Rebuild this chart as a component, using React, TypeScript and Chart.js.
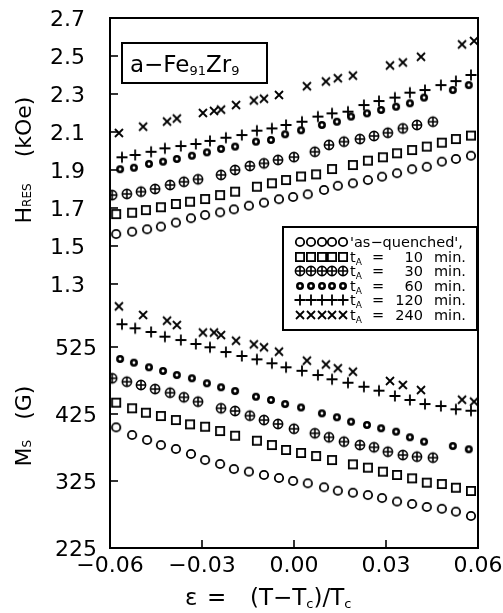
import React, { useEffect, useRef } from 'react';
import { Chart, registerables } from 'chart.js';

Chart.register(...registerables);

// ---------- tick values ----------
const xTicks = [-0.06, -0.03, 0, 0.03, 0.06];
const hTicks = [1.3, 1.5, 1.7, 1.9, 2.1, 2.3, 2.5, 2.7];
const mTicks = [225, 325, 425, 525];

// ---------- legend text ----------
const seriesNames = ["'as\u2212quenched',", 't_A = 10 min.', 't_A = 30 min.', 't_A = 60 min.', 't_A = 120 min.', 't_A = 240 min.'];
const annealMinutes = ['10', '30', '60', '120', '240'];

// ---------- data: as-quenched ----------
const epsAQ = [-0.0580, -0.0528, -0.0479, -0.0434, -0.0385, -0.0336, -0.0290, -0.0241, -0.0196, -0.0147, -0.0098, -0.0049, -0.0003, 0.0045, 0.0098, 0.0143, 0.0192, 0.0241, 0.0287, 0.0336, 0.0385, 0.0433, 0.0482, 0.0528, 0.0577];
const hAQ = [1.563, 1.575, 1.588, 1.602, 1.623, 1.646, 1.663, 1.677, 1.693, 1.712, 1.728, 1.746, 1.758, 1.772, 1.795, 1.817, 1.830, 1.847, 1.865, 1.883, 1.904, 1.917, 1.944, 1.958, 1.975];
const mAQ = [405.1, 393.7, 386.2, 378.7, 372.8, 365.3, 356.3, 350.4, 342.9, 338.9, 334.0, 329.5, 325.0, 321.6, 315.6, 310.5, 307.5, 304.1, 299.6, 294.4, 290.7, 286.2, 283.5, 279.2, 272.8];

// ---------- data: tA = 10 min ----------
const eps10 = [-0.0580, -0.0528, -0.0483, -0.0434, -0.0385, -0.0339, -0.0290, -0.0241, -0.0192, -0.0121, -0.0072, -0.0026, 0.0023, 0.0072, 0.0124, 0.0192, 0.0241, 0.0290, 0.0336, 0.0385, 0.0433, 0.0482, 0.0528, 0.0577];
const h10 = [1.668, 1.675, 1.689, 1.704, 1.721, 1.733, 1.747, 1.768, 1.786, 1.812, 1.830, 1.847, 1.866, 1.877, 1.905, 1.926, 1.949, 1.967, 1.988, 2.005, 2.023, 2.044, 2.063, 2.081];
const m10 = [441.9, 433.5, 426.9, 422.0, 416.0, 409.6, 406.0, 399.6, 392.6, 385.1, 378.7, 371.3, 366.8, 362.3, 356.3, 349.9, 344.9, 338.9, 334.0, 329.0, 322.5, 320.5, 315.0, 310.1];

// ---------- data: tA = 30 min ----------
const eps30 = [-0.0593, -0.0545, -0.0499, -0.0453, -0.0404, -0.0359, -0.0313, -0.0238, -0.0192, -0.0144, -0.0098, -0.0052, 0.0000, 0.0068, 0.0114, 0.0163, 0.0215, 0.0261, 0.0306, 0.0355, 0.0401, 0.0453];
const h30 = [1.768, 1.774, 1.786, 1.800, 1.821, 1.838, 1.851, 1.874, 1.900, 1.921, 1.935, 1.953, 1.968, 1.996, 2.032, 2.049, 2.063, 2.079, 2.096, 2.119, 2.137, 2.154];
const m30 = [478.3, 473.2, 468.3, 462.3, 456.8, 449.9, 443.4, 433.5, 429.5, 422.5, 416.0, 410.1, 402.9, 396.2, 390.2, 383.7, 378.7, 375.3, 368.7, 363.8, 361.3, 359.8];

// ---------- data: tA = 60 min ----------
const eps60 = [-0.0567, -0.0522, -0.0473, -0.0427, -0.0382, -0.0333, -0.0284, -0.0238, -0.0192, -0.0124, -0.0075, -0.0029, 0.0023, 0.0091, 0.0140, 0.0186, 0.0238, 0.0284, 0.0333, 0.0378, 0.0424, 0.0518, 0.0570];
const h60 = [1.904, 1.912, 1.932, 1.944, 1.958, 1.975, 1.993, 2.011, 2.023, 2.049, 2.058, 2.088, 2.109, 2.137, 2.154, 2.181, 2.198, 2.216, 2.233, 2.251, 2.281, 2.321, 2.347];
const m60 = [507.1, 501.6, 494.7, 489.2, 483.2, 478.3, 470.8, 464.9, 459.3, 450.8, 445.9, 439.9, 434.7, 426.0, 420.1, 413.5, 408.6, 403.7, 398.6, 390.2, 383.7, 377.2, 372.3];

// ---------- data: tA = 120 min ----------
const eps120 = [-0.0561, -0.0518, -0.0466, -0.0421, -0.0369, -0.0320, -0.0274, -0.0222, -0.0170, -0.0121, -0.0072, -0.0026, 0.0026, 0.0078, 0.0124, 0.0176, 0.0228, 0.0277, 0.0329, 0.0378, 0.0427, 0.0479, 0.0528, 0.0577];
const h120 = [1.967, 1.979, 1.996, 2.014, 2.026, 2.037, 2.053, 2.070, 2.084, 2.107, 2.119, 2.137, 2.154, 2.181, 2.198, 2.207, 2.242, 2.263, 2.281, 2.307, 2.321, 2.347, 2.368, 2.400];
const m120 = [559.0, 552.9, 547.4, 540.4, 535.4, 529.5, 524.6, 517.5, 511.6, 506.6, 500.7, 494.7, 489.5, 483.2, 476.8, 471.7, 465.7, 459.8, 451.9, 445.9, 439.9, 436.9, 432.0, 429.9];

// ---------- data: tA = 240 min ----------
const eps240 = [-0.0571, -0.0492, -0.0414, -0.0382, -0.0297, -0.0261, -0.0238, -0.0189, -0.0131, -0.0098, -0.0049, 0.0042, 0.0104, 0.0143, 0.0192, 0.0313, 0.0355, 0.0414, 0.0548, 0.0587];
const h240 = [2.095, 2.128, 2.155, 2.171, 2.200, 2.211, 2.218, 2.242, 2.266, 2.275, 2.295, 2.341, 2.366, 2.383, 2.397, 2.450, 2.466, 2.496, 2.561, 2.579];
const m240 = [585.7, 572.8, 564.3, 557.8, 546.6, 546.6, 542.9, 534.4, 529.0, 524.6, 518.0, 504.6, 498.9, 493.2, 488.1, 474.3, 468.3, 460.8, 446.3, 443.4];

const FONT = '"DejaVu Sans", sans-serif';

type Run = { t: string; size: number; dy?: number; gap?: number };

function drawRuns(ctx: CanvasRenderingContext2D, runs: Run[], x: number, y: number) {
  let cx = x;
  for (const r of runs) {
    cx += r.gap || 0;
    ctx.font = `${r.size}px ${FONT}`;
    ctx.fillText(r.t, cx, y + (r.dy || 0));
    cx += ctx.measureText(r.t).width;
  }
  return cx - x;
}

function runsWidth(ctx: CanvasRenderingContext2D, runs: Run[]) {
  let w = 0;
  for (const r of runs) {
    ctx.font = `${r.size}px ${FONT}`;
    w += (r.gap || 0) + ctx.measureText(r.t).width;
  }
  return w;
}

function makeMarker(kind: string): HTMLCanvasElement {
  const c = document.createElement('canvas');
  const S = 14;
  c.width = S;
  c.height = S;
  const g = c.getContext('2d') as CanvasRenderingContext2D;
  const m = S / 2;
  g.strokeStyle = '#000';
  g.fillStyle = '#000';
  g.lineWidth = 1.8;
  g.beginPath();
  if (kind === 'circle') {
    g.arc(m, m, 4.2, 0, Math.PI * 2);
    g.stroke();
  } else if (kind === 'square') {
    g.strokeRect(m - 4.1, m - 4.1, 8.2, 8.2);
  } else if (kind === 'oplus') {
    g.lineWidth = 1.6;
    g.arc(m, m, 4.6, 0, Math.PI * 2);
    g.stroke();
    g.beginPath();
    g.moveTo(m - 4.6, m);
    g.lineTo(m + 4.6, m);
    g.moveTo(m, m - 4.6);
    g.lineTo(m, m + 4.6);
    g.stroke();
  } else if (kind === 'dot') {
    g.lineWidth = 2.6;
    g.arc(m, m, 2.7, 0, Math.PI * 2);
    g.stroke();
  } else if (kind === 'plus') {
    g.moveTo(m - 5.5, m);
    g.lineTo(m + 5.5, m);
    g.moveTo(m, m - 5.5);
    g.lineTo(m, m + 5.5);
    g.stroke();
  } else if (kind === 'cross') {
    const d = 4;
    g.moveTo(m - d, m - d);
    g.lineTo(m + d, m + d);
    g.moveTo(m + d, m - d);
    g.lineTo(m - d, m + d);
    g.stroke();
  }
  return c;
}

export default function App() {
  const ref = useRef<HTMLCanvasElement | null>(null);

  useEffect(() => {
    const canvas = ref.current;
    if (!canvas) return;

    const kinds = ['circle', 'square', 'oplus', 'dot', 'plus', 'cross'];
    const markers = kinds.map(makeMarker);

    const series = [
      { eps: epsAQ, h: hAQ, m: mAQ },
      { eps: eps10, h: h10, m: m10 },
      { eps: eps30, h: h30, m: m30 },
      { eps: eps60, h: h60, m: m60 },
      { eps: eps120, h: h120, m: m120 },
      { eps: eps240, h: h240, m: m240 },
    ];

    const datasets: any[] = [];
    series.forEach((s, k) => {
      datasets.push({
        label: seriesNames[k] + ' H',
        data: s.eps.map((x, i) => ({ x, y: s.h[i] })),
        xAxisID: 'x',
        yAxisID: 'yH',
        pointStyle: markers[k],
        pointRadius: 4,
        showLine: false,
      });
      datasets.push({
        label: seriesNames[k] + ' M',
        data: s.eps.map((x, i) => ({ x, y: s.m[i] })),
        xAxisID: 'x',
        yAxisID: 'yM',
        pointStyle: markers[k],
        pointRadius: 4,
        showLine: false,
      });
    });

    const tickFont = { family: FONT, size: 22 };

    const decor = {
      id: 'decor',
      afterDraw(chart: any) {
        const ctx: CanvasRenderingContext2D = chart.ctx;
        const a = chart.chartArea;
        ctx.save();
        ctx.strokeStyle = '#000';
        ctx.fillStyle = '#000';
        // frame
        ctx.lineWidth = 2;
        ctx.strokeRect(a.left, a.top, a.right - a.left, a.bottom - a.top);
        // inward ticks
        ctx.lineWidth = 1.6;
        const tl = 8;
        ['yH', 'yM'].forEach((id) => {
          const s = chart.scales[id];
          s.ticks.forEach((t: any) => {
            const y = s.getPixelForValue(t.value);
            if (y <= a.top + 1 || y >= a.bottom - 1) return;
            ctx.beginPath();
            ctx.moveTo(a.left, y);
            ctx.lineTo(a.left + tl, y);
            ctx.stroke();
          });
        });
        const sx = chart.scales.x;
        sx.ticks.forEach((t: any) => {
          const x = sx.getPixelForValue(t.value);
          if (x <= a.left + 1 || x >= a.right - 1) return;
          ctx.beginPath();
          ctx.moveTo(x, a.bottom);
          ctx.lineTo(x, a.bottom - tl);
          ctx.stroke();
        });

        ctx.textBaseline = 'alphabetic';
        ctx.textAlign = 'left';

        // y titles (rotated)
        const hRuns: Run[] = [
          { t: 'H', size: 22 },
          { t: 'RES', size: 12 },
          { t: '(kOe)', size: 22, gap: 26 },
        ];
        const mRuns: Run[] = [
          { t: 'M', size: 22 },
          { t: 'S', size: 12 },
          { t: '(G)', size: 22, gap: 20 },
        ];
        const drawRot = (runs: Run[], bx: number, cy: number) => {
          const w = runsWidth(ctx, runs);
          ctx.save();
          ctx.translate(bx, cy);
          ctx.rotate(-Math.PI / 2);
          drawRuns(ctx, runs, -w / 2, 0);
          ctx.restore();
        };
        drawRot(hRuns, 30.5, 160);
        drawRot(mRuns, 30.5, 426);

        // x title
        ctx.font = `23px ${FONT}`;
        ctx.fillText('\u03b5', 185, 605);
        ctx.fillText('=', 207, 605);
        drawRuns(
          ctx,
          [
            { t: '(T\u2212T', size: 23 },
            { t: 'c', size: 13, dy: 3 },
            { t: ')/T', size: 23 },
            { t: 'c', size: 13, dy: 3 },
          ],
          250,
          605
        );

        // sample title box
        ctx.lineWidth = 2;
        ctx.fillStyle = '#fff';
        ctx.fillRect(122, 43, 145, 40);
        ctx.strokeRect(122, 43, 145, 40);
        ctx.fillStyle = '#000';
        drawRuns(
          ctx,
          [
            { t: 'a\u2212Fe', size: 23 },
            { t: '91', size: 13, dy: 3 },
            { t: 'Zr', size: 23 },
            { t: '9', size: 13, dy: 3 },
          ],
          130,
          72
        );

        // legend box
        const lx = 283, ly = 227, lw = 194, lh = 103;
        ctx.fillStyle = '#fff';
        ctx.fillRect(lx, ly, lw, lh);
        ctx.lineWidth = 2;
        ctx.strokeRect(lx, ly, lw, lh);
        ctx.fillStyle = '#000';
        const rowY0 = 242, rowStep = 14.5;
        for (let r = 0; r < 6; r++) {
          const cy = rowY0 + r * rowStep;
          const img = markers[r];
          for (let i = 0; i < 5; i++) {
            const cx = 300 + i * 10.8;
            ctx.drawImage(img, Math.round(cx - img.width / 2), Math.round(cy - img.height / 2));
          }
          const base = cy + 5;
          ctx.textAlign = 'left';
          if (r === 0) {
            ctx.font = `14.5px ${FONT}`;
            ctx.fillText(seriesNames[0], 350, base);
          } else {
            drawRuns(ctx, [{ t: 't', size: 14.5 }, { t: 'A', size: 9, dy: 3 }], 350, base);
            ctx.font = `14.5px ${FONT}`;
            ctx.textAlign = 'center';
            ctx.fillText('=', 378, base);
            ctx.textAlign = 'right';
            ctx.fillText(annealMinutes[r - 1], 423, base);
            ctx.textAlign = 'left';
            ctx.fillText('min.', 434, base);
          }
        }
        ctx.restore();
      },
    };

    const setTicks = (vals: number[]) => (axis: any) => {
      axis.ticks = vals.map((v) => ({ value: v }));
    };

    const fitY = (s: any) => {
      s.width = 110;
      s.paddingTop = 0;
      s.paddingBottom = 0;
    };

    const chart = new Chart(canvas, {
      type: 'scatter',
      data: { datasets },
      options: {
        animation: false,
        responsive: false,
        devicePixelRatio: 1,
        layout: { padding: { top: 18, right: 25, left: 0, bottom: 0 } },
        plugins: { legend: { display: false }, tooltip: { enabled: false } },
        elements: { point: { borderColor: '#000', backgroundColor: '#000' } },
        scales: {
          x: {
            type: 'linear',
            position: 'bottom',
            min: -0.06,
            max: 0.06,
            afterBuildTicks: setTicks(xTicks),
            afterFit: (s: any) => {
              s.height = 65;
              s.paddingLeft = 0;
              s.paddingRight = 0;
            },
            grid: { display: false, drawTicks: false },
            border: { display: false },
            ticks: {
              font: tickFont,
              color: '#000',
              padding: 5,
              maxRotation: 0,
              autoSkip: false,
              callback: (v: any) => {
                const n = Number(v);
                return n < 0 ? '\u2212' + Math.abs(n).toFixed(2) : n.toFixed(2);
              },
            },
          },
          yM: {
            type: 'linear',
            position: 'left',
            stack: 'panels',
            stackWeight: 253,
            min: 225,
            max: 602.6,
            afterBuildTicks: setTicks(mTicks),
            afterFit: fitY,
            grid: { display: false, drawTicks: false },
            border: { display: false },
            ticks: {
              font: tickFont,
              color: '#000',
              padding: 13,
              labelOffset: 2,
              autoSkip: false,
              callback: (v: any) => String(v),
            },
          },
          yH: {
            type: 'linear',
            position: 'left',
            stack: 'panels',
            stackWeight: 277,
            min: 1.242,
            max: 2.7,
            afterBuildTicks: setTicks(hTicks),
            afterFit: fitY,
            grid: { display: false, drawTicks: false },
            border: { display: false },
            ticks: {
              font: tickFont,
              color: '#000',
              padding: 25,
              labelOffset: 2,
              autoSkip: false,
              callback: (v: any) => Number(v).toFixed(1),
            },
          },
        },
      } as any,
      plugins: [decor],
    });

    return () => {
      chart.destroy();
    };
  }, []);

  return (
    <div style={{ position: 'fixed', left: 0, top: 0, width: 503, height: 613, background: '#fff' }}>
      <canvas ref={ref} width={503} height={613} style={{ display: 'block', width: 503, height: 613 }} />
    </div>
  );
}
